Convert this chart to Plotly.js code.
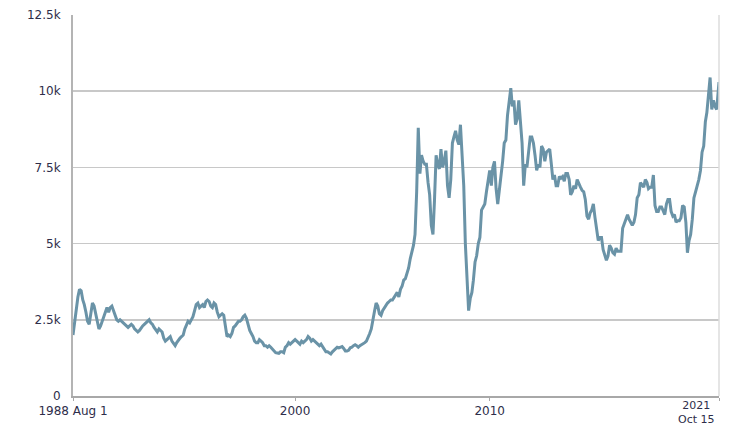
<!DOCTYPE html>
<html>
<head>
<meta charset="utf-8">
<script src="https://cdn.plot.ly/plotly-3.0.1.min.js"></script>
<style>
  html, body { margin: 0; padding: 0; background: #ffffff; }
  #chart { width: 729px; height: 427px; }
</style>
</head>
<body>
<div id="chart"></div>
<script>
// Monthly price series, first value = Aug 1988, last value = Oct 15 2021
const startYear = 1988;
const startMonth = 8; // August
const endDate = '2021-10-15';

const prices = [
  /* 1988 Aug-Dec */ 2000, 2450, 2900, 3250, 3500,
  /* 1989 */ 3450, 3150, 3000, 2750, 2450, 2350, 2700, 3050, 2950, 2700, 2400, 2200,
  /* 1990 */ 2300, 2450, 2650, 2800, 2900, 2750, 2900, 2950, 2800, 2600, 2500, 2450,
  /* 1991 */ 2500, 2450, 2400, 2350, 2300, 2250, 2300, 2350, 2300, 2200, 2150, 2100,
  /* 1992 */ 2150, 2250, 2300, 2350, 2400, 2450, 2500, 2400, 2350, 2250, 2150, 2100,
  /* 1993 */ 2200, 2150, 2100, 1900, 1800, 1850, 1900, 1950, 1800, 1700, 1650, 1750,
  /* 1994 */ 1850, 1900, 1950, 2000, 2200, 2350, 2450, 2400, 2500, 2600, 2800, 3000,
  /* 1995 */ 3050, 2900, 2950, 3000, 2900, 3100, 3150, 3100, 2950, 2900, 3050, 3000,
  /* 1996 */ 2750, 2600, 2650, 2700, 2650, 2200, 1950, 2000, 1950, 2050, 2250, 2300,
  /* 1997 */ 2400, 2450, 2450, 2500, 2600, 2650, 2550, 2300, 2150, 2050, 1950, 1800,
  /* 1998 */ 1750, 1750, 1850, 1800, 1750, 1650, 1650, 1600, 1650, 1600, 1550, 1480,
  /* 1999 */ 1420, 1410, 1400, 1450, 1450, 1420, 1600, 1650, 1750, 1700, 1750, 1780,
  /* 2000 */ 1850, 1800, 1750, 1700, 1800, 1750, 1800, 1850, 1950, 1900, 1800, 1850,
  /* 2001 */ 1800, 1750, 1700, 1650, 1700, 1600, 1500, 1450, 1450, 1400, 1380, 1450,
  /* 2002 */ 1500, 1550, 1600, 1580, 1600, 1620, 1560, 1480, 1480, 1500, 1580, 1600,
  /* 2003 */ 1650, 1680, 1650, 1600, 1650, 1680, 1700, 1750, 1800, 1900, 2050, 2200,
  /* 2004 */ 2450, 2800, 3050, 2950, 2700, 2650, 2800, 2900, 3000, 3050, 3100, 3150,
  /* 2005 */ 3150, 3250, 3350, 3400, 3250, 3500, 3600, 3800, 3850, 4000, 4200, 4500,
  /* 2006 */ 4700, 4950, 5300, 6700, 8800, 7300, 7900, 7700, 7600, 7600, 7000, 6600,
  /* 2007 */ 5600, 5300, 6400, 7900, 7600, 7450, 8100, 7500, 7700, 8050, 6900, 6500,
  /* 2008 */ 7100, 8300, 8500, 8700, 8400, 8250, 8900, 7700, 6900, 5000, 3800, 2800,
  /* 2009 */ 3200, 3400, 3800, 4400, 4600, 5000, 5200, 6100, 6200, 6300, 6700, 7000,
  /* 2010 */ 7400, 6900, 7500, 7700, 6800, 6300, 6700, 7300, 7700, 8300, 8400, 9200,
  /* 2011 */ 9600, 10100, 9500, 9700, 8900, 9100, 9700, 9000, 8300, 6900, 7600, 7500,
  /* 2012 */ 8000, 8500, 8500, 8300, 7900, 7400, 7600, 7500, 8200, 8100, 7700, 8000,
  /* 2013 */ 8050, 8100, 7650, 7100, 7250, 6900, 6900, 7200, 7150, 7200, 7050, 7300,
  /* 2014 */ 7300, 7100, 6600, 6700, 6900, 6800, 7100, 7000, 6850, 6750, 6700, 6450,
  /* 2015 */ 5900, 5800, 6000, 6100, 6300, 5850, 5450, 5100, 5200, 5200, 4800, 4650,
  /* 2016 */ 4450, 4600, 4950, 4850, 4700, 4650, 4850, 4750, 4750, 4750, 5500, 5650,
  /* 2017 */ 5750, 5950, 5800, 5700, 5600, 5700, 5950, 6500, 6600, 7000, 6900, 6850,
  /* 2018 */ 7100, 7000, 6800, 6850, 6850, 7250, 6250, 6050, 6050, 6200, 6200, 6100,
  /* 2019 */ 5950, 6300, 6450, 6450, 6050, 5900, 5950, 5700, 5750, 5750, 5850, 6250,
  /* 2020 */ 6200, 5700, 4700, 5100, 5300, 5800, 6500, 6700, 6900, 7100, 7400, 8000,
  /* 2021 Jan-Oct */ 8200, 9000, 9300, 9900, 10450, 9400, 9700, 9500, 9400, 10300
];

const yTickVals = [0, 2500, 5000, 7500, 10000, 12500];
const yTickText = ['0', '2.5k', '5k', '7.5k', '10k', '12.5k'];
const xTickVals = ['1988-08-01', '2000-01-01', '2010-01-01', '2021-10-15'];
const xTickText = ['1988 Aug 1', '2000', '2010', ''];
const endLabel = '2021<br>Oct 15';

// build month dates for the series
const dates = prices.map(function (_, i) {
  const m0 = startMonth - 1 + i;
  const y = startYear + Math.floor(m0 / 12);
  const m = (m0 % 12) + 1;
  return y + '-' + String(m).padStart(2, '0') + '-01';
});
dates[dates.length - 1] = endDate;

const FONT = 'DejaVu Sans, Verdana, sans-serif';
const TXT = '#2e2e4a';

const trace = {
  x: dates,
  y: prices,
  type: 'scatter',
  mode: 'lines',
  line: { color: '#6a93a7', width: 3 },
  hoverinfo: 'x+y'
};

const layout = {
  width: 729,
  height: 427,
  margin: { l: 73, r: 10, t: 15, b: 31 },
  paper_bgcolor: '#ffffff',
  plot_bgcolor: '#ffffff',
  showlegend: false,
  font: { family: FONT, size: 12, color: TXT },
  xaxis: {
    type: 'date',
    range: [dates[0], endDate],
    tickmode: 'array',
    tickvals: xTickVals,
    ticktext: xTickText,
    tickangle: 0,
    showgrid: false,
    zeroline: false,
    showline: true,
    linecolor: '#a8a8a8',
    linewidth: 2,
    ticks: 'outside',
    ticklen: 3,
    tickcolor: '#a8a8a8',
    tickfont: { family: FONT, size: 12, color: TXT },
    fixedrange: true
  },
  yaxis: {
    range: [0, 12500],
    tickmode: 'array',
    tickvals: yTickVals,
    ticktext: yTickText,
    showgrid: true,
    gridcolor: '#c8c8c8',
    gridwidth: 1.6,
    zeroline: false,
    showline: true,
    linecolor: '#b4b4b4',
    linewidth: 2,
    ticks: '',
    ticklabelstandoff: 8,
    tickfont: { family: FONT, size: 12, color: TXT },
    fixedrange: true
  },
  shapes: [
    { type: 'line', xref: 'paper', yref: 'paper', x0: 1, x1: 1, y0: 0, y1: 1,
      line: { color: '#dcdcdc', width: 1.5 } }
  ],
  annotations: [
    { x: endDate, xref: 'x', y: 0, yref: 'paper', yanchor: 'bottom', xanchor: 'right',
      xshift: -3, yshift: -31, text: endLabel, showarrow: false, borderpad: 0,
      align: 'center', font: { family: FONT, size: 11, color: TXT } }
  ]
};

Plotly.newPlot('chart', [trace], layout, { displayModeBar: false, staticPlot: true });
</script>
</body>
</html>
